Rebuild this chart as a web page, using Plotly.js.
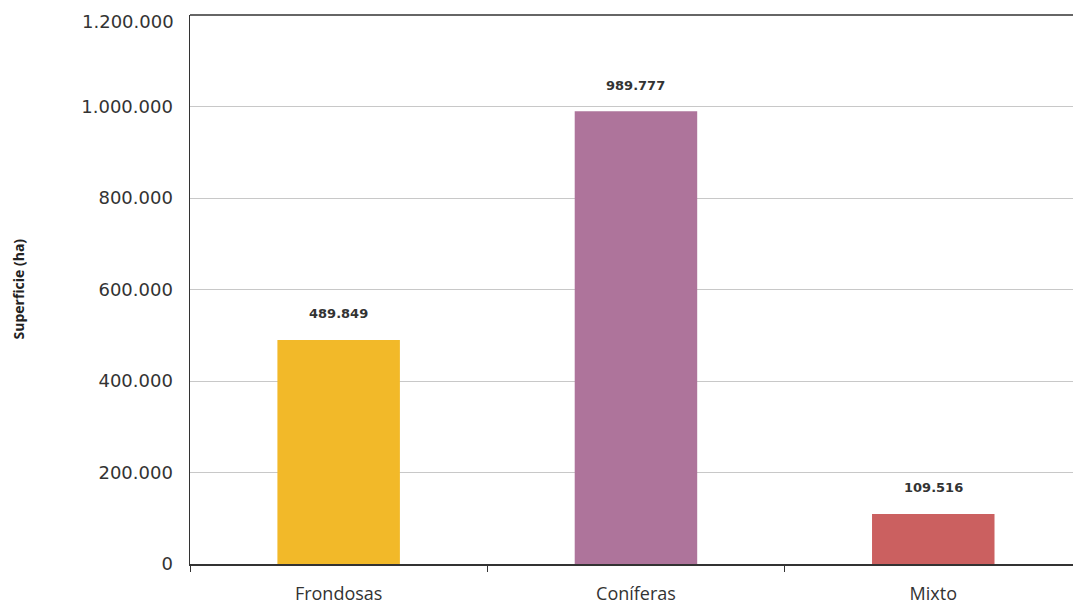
<!DOCTYPE html>
<html>
<head>
<meta charset="utf-8">
<script src="https://cdn.plot.ly/plotly-3.0.1.min.js"></script>
<style>html,body{margin:0;padding:0;background:#fff;}#chart{width:1073px;height:605px;}</style>
</head>
<body>
<div id="chart"></div>
<script>
const categories = ["Frondosas", "Coníferas", "Mixto"];
const values = [489849, 989777, 109516];
const labels = ["489.849", "989.777", "109.516"];
const colors = ["#F2B929", "#AE749B", "#CB6060"];
const yTicks = [0, 200000, 400000, 600000, 800000, 1000000, 1200000];
const yTickText = ["0", "200.000", "400.000", "600.000", "800.000", "1.000.000", "1.200.000"];

const trace = {
  type: "bar",
  x: categories,
  y: values,
  marker: {color: colors},
  width: 0.412,
  hoverinfo: "none"
};

const tickFont = {family: "DejaVu Sans, sans-serif", size: 18, color: "#333"};
const last = yTicks.length - 1;

const annotations = categories.map((c, i) => ({
  x: c, y: values[i], xref: "x", yref: "y",
  text: "<b>" + labels[i] + "</b>", showarrow: false, yshift: 26,
  font: {family: "DejaVu Sans, sans-serif", size: 13, color: "#333"}
}));
annotations.push({
  xref: "paper", yref: "paper", x: 0, y: 0.5, xanchor: "center", yanchor: "middle",
  xshift: -172, textangle: -90, showarrow: false, text: "<b>Superficie (ha)</b>",
  font: {family: "Open Sans, DejaVu Sans, sans-serif", size: 14, color: "#222"}
});
// top tick label, nudged down to stay inside the picture as in the reference
annotations.push({
  xref: "paper", yref: "y", x: 0, y: yTicks[last], xanchor: "right", yanchor: "middle",
  xshift: -14, yshift: -6, showarrow: false, text: yTickText[last], font: tickFont
});

const layout = {
  width: 1073, height: 605,
  margin: {l: 190, r: 0, t: 15, b: 41},
  paper_bgcolor: "#fff", plot_bgcolor: "#fff",
  separators: ",.",
  showlegend: false,
  xaxis: {
    type: "category",
    range: [-0.5, 2.47],
    showline: true, linecolor: "#333", linewidth: 1.5,
    ticks: "outside", ticklen: 6, tickcolor: "#333", tickwidth: 1,
    tickson: "boundaries",
    showgrid: false,
    ticklabelstandoff: 13,
    tickfont: {family: "Open Sans, sans-serif", size: 18, color: "#333"}
  },
  yaxis: {
    range: [0, 1200000],
    tickvals: yTicks,
    ticktext: yTickText.map((t, i) => i === last ? "" : t),
    showline: true, linecolor: "#333", linewidth: 1.5,
    showgrid: true, gridcolor: "#c8c8c8", gridwidth: 1,
    zeroline: false,
    ticks: "",
    ticklabelstandoff: 12,
    tickfont: tickFont
  },
  shapes: [{
    type: "line", xref: "paper", yref: "paper", x0: 0, x1: 1, y0: 1, y1: 1,
    line: {color: "#333", width: 1.3}
  }],
  annotations: annotations
};

Plotly.newPlot("chart", [trace], layout, {displayModeBar: false, staticPlot: true});
</script>
</body>
</html>
